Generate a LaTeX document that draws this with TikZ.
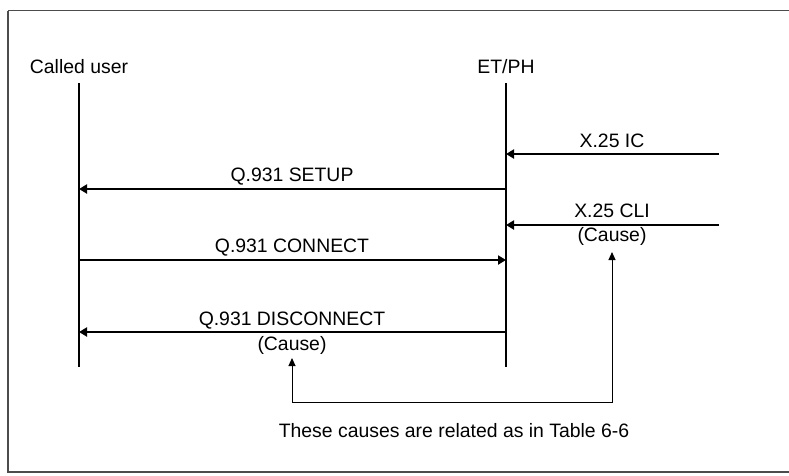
\documentclass[tikz,border=0pt]{standalone}
\usepackage{fontspec}
\setmainfont{Liberation Sans}
\usetikzlibrary{arrows.meta}
\begin{document}
\begin{tikzpicture}[x=1pt,y=-1pt,
  lbl/.style={anchor=base,inner sep=0pt,font=\fontsize{19.4}{22}\selectfont},
  lifeline/.style={line width=2pt},
  msg/.style={line width=2pt,-{Triangle[length=8pt,width=9pt]}},
  relate/.style={line width=1pt,-{Triangle[length=8pt,width=7pt]}},
  frame/.style={draw=black!70,line width=1.3pt}]
\useasboundingbox (0,0) rectangle (789,475);
\draw[frame] (8,10.5) -- (800,10.5) (8,10.5) -- (8,472) -- (800,472);
% lifeline heads
\node[lbl] (cu) at (79,73) {Called user};
\node[lbl] (et) at (506,73) {ET/PH};
\coordinate (cuT) at (79,83);
\coordinate (cuB) at (79,367);
\coordinate (etT) at (506,83);
\coordinate (etB) at (506,367);
\draw[lifeline] (cuT) -- (cuB);
\draw[lifeline] (etT) -- (etB);
% X.25 IC
\coordinate (icR) at (719,154);
\coordinate (icL) at (506,154);
\draw[msg] (icR) -- (icL);
\node[lbl] (ic) at (612,147) {X.25 IC};
% SETUP
\coordinate (suR) at (506,189);
\coordinate (suL) at (79,189);
\draw[msg] (suR) -- (suL);
\node[lbl] (su) at (292,181) {Q.931 SETUP};
% X.25 CLI
\coordinate (clR) at (719,225);
\coordinate (clL) at (506,225);
\draw[msg] (clR) -- (clL);
\node[lbl] (cl) at (612,217) {X.25 CLI};
\node[lbl] (clc) at (612,241.5) {(Cause)};
% CONNECT
\coordinate (coL) at (79,260);
\coordinate (coR) at (506,260);
\draw[msg] (coL) -- (coR);
\node[lbl] (co) at (292,252) {Q.931 CONNECT};
% DISCONNECT
\coordinate (diR) at (506,332);
\coordinate (diL) at (79,332);
\draw[msg] (diR) -- (diL);
\node[lbl] (di) at (292,325) {Q.931 DISCONNECT};
\node[lbl] (dic) at (292,350) {(Cause)};
% relation bracket
\coordinate (bL) at (292,402);
\coordinate (bR) at (612,402);
\coordinate (tL) at (292,358);
\coordinate (tR) at (612,252);
\draw[relate] (bL) -- (tL);
\draw[relate] (bL) -- (bR) -- (tR);
\node[lbl] (note) at (454,437) {These causes are related as in Table 6-6};
\end{tikzpicture}
\end{document}
